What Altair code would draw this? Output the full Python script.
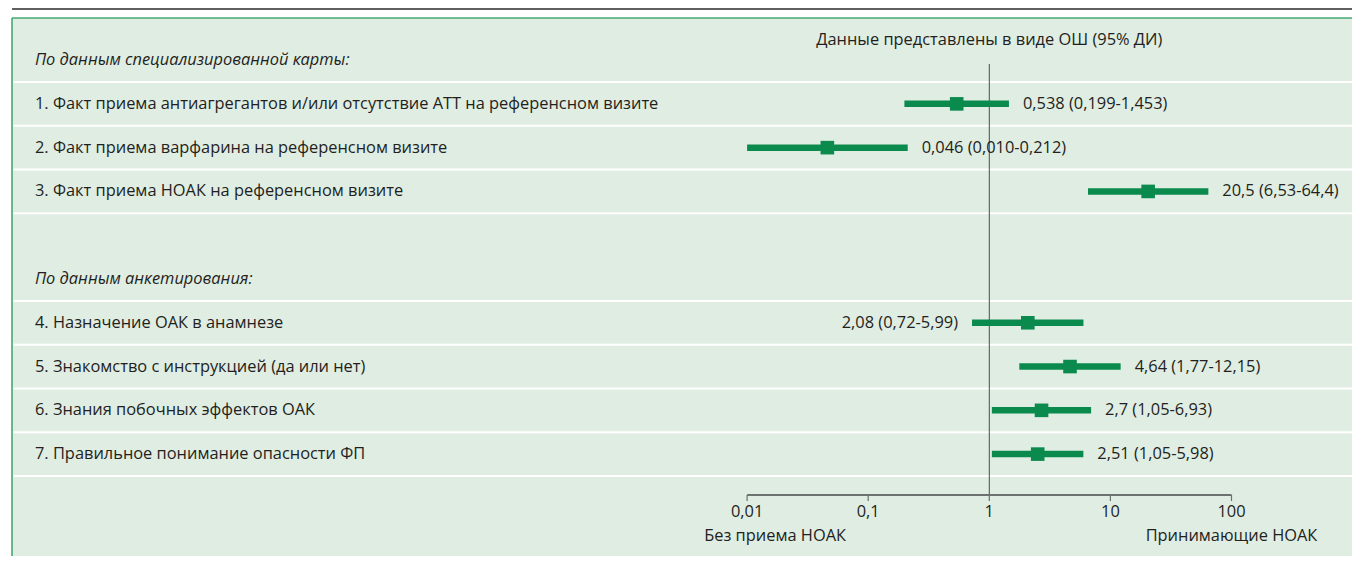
import altair as alt
import pandas as pd

# ---------------- data ----------------
item_labels = [
    "1. Факт приема антиагрегантов и/или отсутствие АТТ на референсном визите",
    "2. Факт приема варфарина на референсном визите",
    "3. Факт приема НОАК на референсном визите",
    "4. Назначение ОАК в анамнезе",
    "5. Знакомство с инструкцией (да или нет)",
    "6. Знания побочных эффектов ОАК",
    "7. Правильное понимание опасности ФП",
]
or_values = [0.538, 0.046, 20.5, 2.08, 4.64, 2.7, 2.51]
ci_low = [0.199, 0.010, 6.53, 0.72, 1.77, 1.05, 1.05]
ci_high = [1.453, 0.212, 64.4, 5.99, 12.15, 6.93, 5.98]
value_texts = [
    "0,538 (0,199-1,453)",
    "0,046 (0,010-0,212)",
    "20,5 (6,53-64,4)",
    "2,08 (0,72-5,99)",
    "4,64 (1,77-12,15)",
    "2,7 (1,05-6,93)",
    "2,51 (1,05-5,98)",
]
label_side = ["right", "right", "right", "left", "right", "right", "right"]
item_slots = [1, 2, 3, 6, 7, 8, 9]

group_headers = ["По данным специализированной карты:", "По данным анкетирования:"]
group_slots = [0, 5]
separator_slots = [0, 1, 2, 3, 5, 6, 7, 8, 9]

tick_values = [0.01, 0.1, 1, 10, 100]
tick_labels = ["0,01", "0,1", "1", "10", "100"]
side_texts = ["Без приема НОАК", "Принимающие НОАК"]
side_values = [0.01, 100]
side_dx = [28, 0]
title_text = "Данные представлены в виде ОШ (95% ДИ)"

# ---------------- layout constants ----------------
W, H = 1340, 538
PX_PER_DEC = 121.1
X_ONE = 977.3          # view x of OR = 1
SLOT = 43.78
SLOT0 = 20.2           # view y of top of slot 0
LEFT_TEXT_X = 23
FS = 16.4

x_lo = 10 ** ((0 - X_ONE) / PX_PER_DEC)
x_hi = 10 ** ((W - X_ONE) / PX_PER_DEC)
y_lo = -SLOT0 / SLOT
y_hi = (H - SLOT0) / SLOT

def v(px):
    return (px - SLOT0) / SLOT

REF_TOP = v(46)
AXIS_Y = v(477)
TICK_END = v(483)
TICK_LAB_Y = v(494)
SIDE_LAB_Y = v(517.5)
TITLE_Y = v(22)

FONT = "Open Sans"
TXT = "#231f20"
GREEN = "#0b8a4e"
BG = "#e0ede3"
BORDER = "#45a874"

xs = alt.Scale(type="log", domain=[x_lo, x_hi], nice=False, zero=False)
ys = alt.Scale(domain=[y_lo, y_hi], reverse=True, nice=False, zero=False)
X = lambda f: alt.X(f, type="quantitative", scale=xs, axis=None)
Y = lambda f: alt.Y(f, type="quantitative", scale=ys, axis=None)

items = pd.DataFrame({
    "label": item_labels, "or": or_values, "lo": ci_low, "hi": ci_high,
    "txt": value_texts, "side": label_side,
    "y": [s + 0.5 for s in item_slots],
})
groups = pd.DataFrame({"label": group_headers, "y": [s + 0.5 for s in group_slots]})
seps = pd.DataFrame({"y": [s + 1.0 for s in separator_slots]})
ticks = pd.DataFrame({"x": tick_values, "lab": tick_labels,
                      "y0": [AXIS_Y] * 5, "y1": [TICK_END] * 5, "ly": [TICK_LAB_Y] * 5})
sides = pd.DataFrame({"x": side_values, "lab": side_texts, "dx": side_dx, "y": [SIDE_LAB_Y] * 2})
axis_df = pd.DataFrame({"x0": [tick_values[0]], "x1": [tick_values[-1]], "y": [AXIS_Y]})
ref_df = pd.DataFrame({"x": [1.0], "y0": [REF_TOP], "y1": [AXIS_Y]})
title_df = pd.DataFrame({"x": [1.0], "y": [TITLE_Y], "t": [title_text]})

base_frame = alt.Chart(pd.DataFrame({"a": [0]}))

top_black = base_frame.mark_rule(color="#2b2b2b", strokeWidth=1.6).encode(
    x=alt.value(0), x2=alt.value(W), y=alt.value(-9))
border_left = base_frame.mark_rule(color=BORDER, strokeWidth=1.6).encode(
    x=alt.value(0), y=alt.value(0), y2=alt.value(H))
border_top = base_frame.mark_rule(color=BORDER, strokeWidth=1.6).encode(
    x=alt.value(0), x2=alt.value(W), y=alt.value(0))

sep_layer = alt.Chart(seps).mark_rule(color="white", strokeWidth=2).encode(
    x=alt.value(1), x2=alt.value(W), y=Y("y"))

ref_layer = alt.Chart(ref_df).mark_rule(color="#4d4d4f", strokeWidth=1).encode(
    x=X("x"), y=Y("y0"), y2=alt.Y2("y1"))

axis_layer = alt.Chart(axis_df).mark_rule(color="#6d716f", strokeWidth=1.8).encode(
    x=X("x0"), x2=alt.X2("x1"), y=Y("y"))
tick_layer = alt.Chart(ticks).mark_rule(color="#6d716f", strokeWidth=1.2).encode(
    x=X("x"), y=Y("y0"), y2=alt.Y2("y1"))
tick_text = alt.Chart(ticks).mark_text(font=FONT, fontSize=FS, color=TXT, baseline="middle").encode(
    x=X("x"), y=Y("ly"), text="lab")
side_left = alt.Chart(sides).transform_filter("datum.dx > 0").mark_text(
    font=FONT, fontSize=FS, color=TXT, baseline="middle", dx=28).encode(
    x=X("x"), y=Y("y"), text="lab")
side_right = alt.Chart(sides).transform_filter("datum.dx == 0").mark_text(
    font=FONT, fontSize=FS, color=TXT, baseline="middle").encode(
    x=X("x"), y=Y("y"), text="lab")

title_layer = alt.Chart(title_df).mark_text(font=FONT, fontSize=FS, color=TXT, baseline="middle").encode(
    x=X("x"), y=Y("y"), text="t")

ci_layer = alt.Chart(items).mark_rule(color=GREEN, strokeWidth=6.5, strokeCap="butt").encode(
    x=X("lo"), x2=alt.X2("hi"), y=Y("y"))
pt_layer = alt.Chart(items).mark_square(color=GREEN, size=185, opacity=1).encode(
    x=X("or"), y=Y("y"))

txt_right = alt.Chart(items).transform_filter("datum.side == 'right'").mark_text(
    font=FONT, fontSize=FS, color=TXT, align="left", baseline="middle", dx=14).encode(
    x=X("hi"), y=Y("y"), text="txt")
txt_left = alt.Chart(items).transform_filter("datum.side == 'left'").mark_text(
    font=FONT, fontSize=FS, color=TXT, align="right", baseline="middle", dx=-14).encode(
    x=X("lo"), y=Y("y"), text="txt")

item_names = alt.Chart(items).mark_text(
    font=FONT, fontSize=FS, color=TXT, align="left", baseline="middle").encode(
    x=alt.value(LEFT_TEXT_X), y=Y("y"), text="label")
group_names = alt.Chart(groups).mark_text(
    font=FONT, fontSize=FS, fontStyle="italic", color=TXT, align="left", baseline="middle").encode(
    x=alt.value(LEFT_TEXT_X), y=Y("y"), text="label")

chart = alt.layer(
    sep_layer, ref_layer, axis_layer, tick_layer, tick_text, side_left, side_right, title_layer,
    ci_layer, pt_layer, txt_right, txt_left, item_names, group_names,
    top_black, border_left, border_top,
).properties(
    width=W, height=H,
    autosize=alt.AutoSizeParams(type="none"),
    padding={"left": 4, "top": 10, "right": 0, "bottom": 0},
    background="white",
).configure_view(fill=BG, strokeWidth=0)

chart.save("out.html", embed_options={"renderer": "svg", "actions": False})
